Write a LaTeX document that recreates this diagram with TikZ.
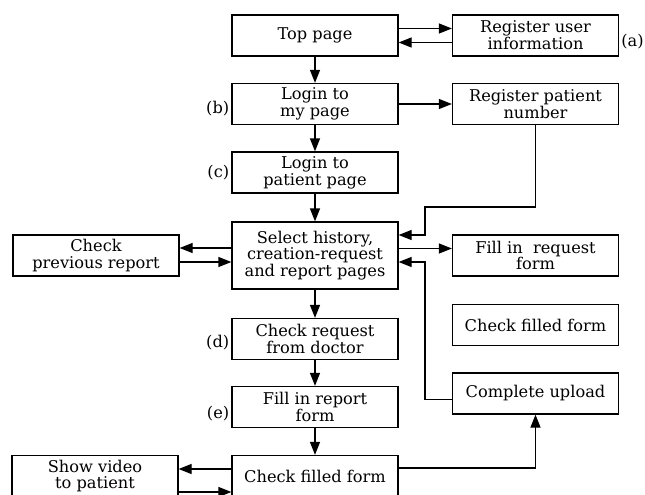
\documentclass[tikz,border=0pt]{standalone}
\usepackage{fontspec}
\setmainfont{DejaVu Serif}
\usetikzlibrary{arrows.meta}
\tikzset{
  page/.style={draw, line width=1.2pt, minimum width=166pt, minimum height=41pt,
    inner sep=0pt, align=center, font=\fontsize{16.2}{16.7}\selectfont},
  arr/.style={line width=1.2pt, -{Triangle[length=13pt,width=10pt]}},
  tag/.style={font=\fontsize{16.2}{16.7}\selectfont, inner sep=2pt}
}
\begin{document}
\begin{tikzpicture}[x=1pt,y=-1pt]
  \useasboundingbox (0,0) rectangle (645,495);
  % middle column
  \node[page] (top) at (315,35.5) {Top page};
  \node[page] (mypage) at (315,104) {Login to\\my page};
  \node[page] (patpage) at (315,172.5) {Login to\\patient page};
  \node[page, minimum height=67pt] (select) at (315,255.5) {Select history,\\creation-request\\and report pages};
  \node[page] (docreq) at (315,339) {Check request\\from doctor};
  \node[page] (fillrep) at (315,407) {Fill in report\\form};
  \node[page] (chkform) at (315,476) {Check filled form};
  % right column
  \node[page] (reguser) at (535.5,35.5) {Register user\\information};
  \node[page] (regpat) at (535.5,104) {Register patient\\number};
  \node[page] (fillreq) at (535.5,255.5) {Fill in~ request\\form};
  \node[page] (chkform2) at (535.5,325) {Check filled form};
  \node[page] (upload) at (535.5,393.5) {Complete upload};
  % left column
  \node[page] (prevrep) at (96,255.5) {Check\\previous report};
  \node[page] (video) at (95,476) {Show video\\to patient};
  % tags
  \node[tag, right] (taga) at ([yshift=-6pt]reguser.east) {(a)};
  \node[tag, left] (tagb) at ([yshift=-5pt]mypage.west) {(b)};
  \node[tag, left] (tagc) at (patpage.west) {(c)};
  \node[tag, left] (tagd) at ([yshift=-4pt]docreq.west) {(d)};
  \node[tag, left] (tage) at ([yshift=-7pt]fillrep.west) {(e)};
  % flow
  \draw[arr] (top) -- (mypage);
  \draw[arr] (mypage) -- (patpage);
  \draw[arr] (patpage) -- (select);
  \draw[arr] (select) -- (docreq);
  \draw[arr] (docreq) -- (fillrep);
  \draw[arr] (fillrep) -- (chkform);
  \draw[arr] ([yshift=7pt]top.east) -- ([yshift=7pt]reguser.west);
  \draw[arr] ([yshift=-7pt]reguser.west) -- ([yshift=-7pt]top.east);
  \draw[arr] (mypage) -- (regpat);
  \draw[arr] (regpat.south) |- (425,207) |- ([yshift=20.5pt]select.east);
  \draw[arr] ([yshift=7pt]select.east) -- ([yshift=7pt]fillreq.west);
  \draw[arr] ([yshift=-6pt]upload.west) -| (425,262) -- ([yshift=-6.5pt]select.east);
  \draw[arr] ([yshift=7.5pt]select.west) -- ([yshift=7.5pt]prevrep.east);
  \draw[arr] ([yshift=-6.5pt]prevrep.east) -- ([yshift=-6.5pt]select.west);
  \draw[arr] ([yshift=7pt]chkform.west) -- ([yshift=7pt]video.east);
  \draw[arr] ([yshift=-16pt]video.east) -- ([yshift=-16pt]chkform.west);
  \draw[arr] ([yshift=8pt]chkform.east) -| (upload.south);
\end{tikzpicture}
\end{document}
